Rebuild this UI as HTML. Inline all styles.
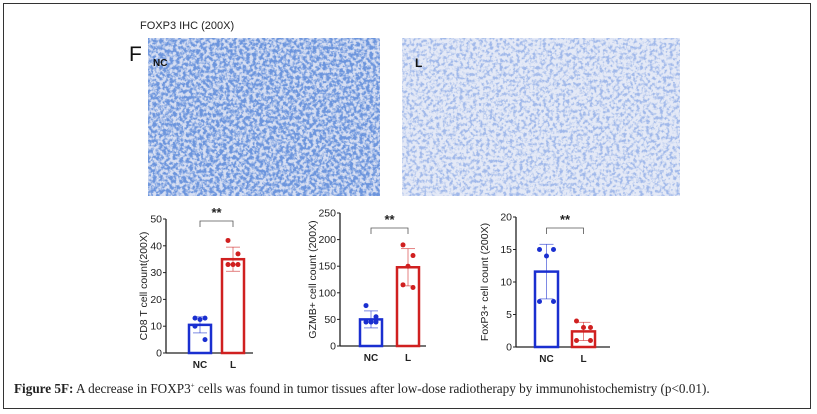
<!DOCTYPE html>
<html><head><meta charset="utf-8"><style>
body{margin:0;background:#fff;width:817px;height:414px;overflow:hidden;font-family:"Liberation Sans",sans-serif}
#frame{position:absolute;left:3px;top:3px;width:806px;height:404px;border:1px solid #333}
.lbl{position:absolute;font-family:"Liberation Sans",sans-serif}
</style></head><body>
<div id="frame"></div>
<div class="lbl" style="left:140px;top:20px;font-size:11px;color:#222">FOXP3 IHC (200X)</div>
<div class="lbl" style="left:129px;top:43px;font-size:21px;color:#111">F</div>
<svg width="817" height="414" style="position:absolute;left:0;top:0">
<defs>
<filter id="tex1" x="0" y="0" width="100%" height="100%"><feTurbulence type="fractalNoise" baseFrequency="0.3" numOctaves="3" seed="3"/><feColorMatrix values="0 0 0 0 0.15  0 0 0 0 0.3  0 0 0 0 0.72  0 0 0 -4 2.5"/></filter>
<filter id="tex2" x="0" y="0" width="100%" height="100%"><feTurbulence type="fractalNoise" baseFrequency="0.3" numOctaves="3" seed="7"/><feColorMatrix values="0 0 0 0 0.35  0 0 0 0 0.48  0 0 0 0 0.82  0 0 0 -4 2.2"/></filter>
</defs>
<g>
<rect x="148" y="38" width="232" height="158" fill="#d6def2"/>
<rect x="148" y="38" width="232" height="158" filter="url(#tex1)"/>
<text x="153" y="66" font-size="10" font-weight="bold" fill="#111" font-family="Liberation Sans,sans-serif">NC</text>
</g>
<g>
<rect x="402" y="38" width="278" height="158" fill="#e4e9f6"/>
<rect x="402" y="38" width="278" height="158" filter="url(#tex2)"/>
<text x="415" y="67" font-size="12" font-weight="bold" fill="#111" font-family="Liberation Sans,sans-serif">L</text>
</g>
<g id="charts"></g>
</svg>
<div class="lbl" style="left:14px;top:381px;font-family:'Liberation Serif',serif;font-size:13.2px;color:#222;white-space:nowrap"><b>Figure 5F:</b> A decrease in FOXP3<sup style="font-size:7px">+</sup> cells was found in tumor tissues after low-dose radiotherapy by immunohistochemistry (p&lt;0.01).</div>
<script>
const groups=["NC","L"];
const cd8Means=[10.5,35];
const cd8Sd=[3,4.5];
const cd8NC=[13,13,12.5,10,5];
const cd8L=[42,37,33,33,33];
const cd8Ticks=[0,10,20,30,40,50];
const gzMeans=[50,148];
const gzSd=[16,35];
const gzNC=[76,55,45,45,45];
const gzL=[190,170,150,115,110];
const gzTicks=[0,50,100,150,200,250];
const fxMeans=[11.6,2.4];
const fxSd=[4.2,1.4];
const fxNC=[15,15,14,7,7];
const fxL=[4,3,3,1,1];
const fxTicks=[0,5,10,15,20];
const NS="http://www.w3.org/2000/svg";
const root=document.getElementById('charts');
function mk(t,a,p){const e=document.createElementNS(NS,t);for(const k in a)e.setAttribute(k,a[k]);(p||root).appendChild(e);return e;}
function chart(cfg){
  const g=mk('g',{});
  
  
  const max=cfg.ticks[cfg.ticks.length-1];
  const y=v=>cfg.y0-(v/max)*(cfg.y0-cfg.yTop);
  const ax=mk('line',{x1:cfg.ax,y1:cfg.yTop,x2:cfg.ax,y2:cfg.y0,stroke:'#222','stroke-width':1.3},g);
  
  const xa=mk('line',{x1:cfg.ax,y1:cfg.y0,x2:cfg.axEnd,y2:cfg.y0,stroke:'#222','stroke-width':1.3},g);
  
  cfg.ticks.forEach(t=>{
    mk('line',{x1:cfg.ax-3,y1:y(t),x2:cfg.ax,y2:y(t),stroke:'#222'},g);
    const tx=mk('text',{x:cfg.ax-4,y:y(t)+3.5,'font-size':10.5,'text-anchor':'end',fill:'#222','font-family':'Liberation Sans,sans-serif'},g);
    tx.textContent=t;
    
  });
  const yt=mk('text',{transform:`translate(${cfg.titleX},${(cfg.y0+cfg.yTop)/2}) rotate(-90)`,'font-size':10.5,'text-anchor':'middle',fill:'#222','font-family':'Liberation Sans,sans-serif'},g);
  yt.textContent=cfg.title;
  
  const cols=['#1a2fd0','#d02020'];
  const pts=[cfg.nc,cfg.l];
  groups.forEach((gn,i)=>{
    const bx=cfg.bars[i];const bw=cfg.bw;
    const b=mk('rect',{x:bx,y:y(cfg.means[i]),width:bw,height:cfg.y0-y(cfg.means[i]),fill:'none',stroke:cols[i],'stroke-width':2.5},g);
    
    const cx=bx+bw/2;
    const eb=mk('g',{},g);
    
    const lo=Math.max(0,cfg.means[i]-cfg.sd[i]),hi=cfg.means[i]+cfg.sd[i];
    mk('line',{x1:cx,y1:y(lo),x2:cx,y2:y(hi),stroke:cols[i],'stroke-width':0.8,opacity:0.7},eb);
    mk('line',{x1:cx-7,y1:y(hi),x2:cx+7,y2:y(hi),stroke:cols[i],'stroke-width':0.8,opacity:0.7},eb);
    mk('line',{x1:cx-7,y1:y(lo),x2:cx+7,y2:y(lo),stroke:cols[i],'stroke-width':0.8,opacity:0.7},eb);
    pts[i].forEach((v,k)=>{
      const c=mk('circle',{cx:cx+[-5,5,0,-5,5][k]*(cfg.spread||1),cy:y(v),r:2.5,fill:cols[i]},g);
      
    });
    const xl=mk('text',{x:cx,y:cfg.y0+15,'font-size':10,'font-weight':'bold','text-anchor':'middle',fill:'#222','font-family':'Liberation Sans,sans-serif'},g);
    xl.textContent=gn;
    
  });
  const c1=cfg.bars[0]+cfg.bw/2,c2=cfg.bars[1]+cfg.bw/2;
  const sg=mk('g',{},g);
  
  mk('path',{d:`M${c1},${cfg.brY+6}V${cfg.brY}H${c2}V${cfg.brY+6}`,fill:'none',stroke:'#555','stroke-width':0.8},sg);
  const st=mk('text',{x:(c1+c2)/2,y:cfg.brY-4,'font-size':13,'font-weight':'bold','text-anchor':'middle',fill:'#222','font-family':'Liberation Sans,sans-serif'},sg);
  st.textContent='**';
}
chart({name:'cd8-chart',ax:166,axEnd:253,y0:353,yTop:219,ticks:cd8Ticks,means:cd8Means,sd:cd8Sd,nc:cd8NC,l:cd8L,bars:[189,222],bw:22,brY:221,titleX:147,title:'CD8 T cell count(200X)'});
chart({name:'gzmb-chart',ax:340,axEnd:426,y0:346,yTop:213,ticks:gzTicks,means:gzMeans,sd:gzSd,nc:gzNC,l:gzL,bars:[360,397],bw:22,brY:228,titleX:316,title:'GZMB+ cell count (200X)'});
chart({name:'foxp3-chart',ax:516,axEnd:610,y0:347,yTop:217,ticks:fxTicks,means:fxMeans,sd:fxSd,nc:fxNC,l:fxL,bars:[535,572],bw:23,brY:228,titleX:488,title:'FoxP3+ cell count (200X)',spread:1.4});
</script>
</body></html>
